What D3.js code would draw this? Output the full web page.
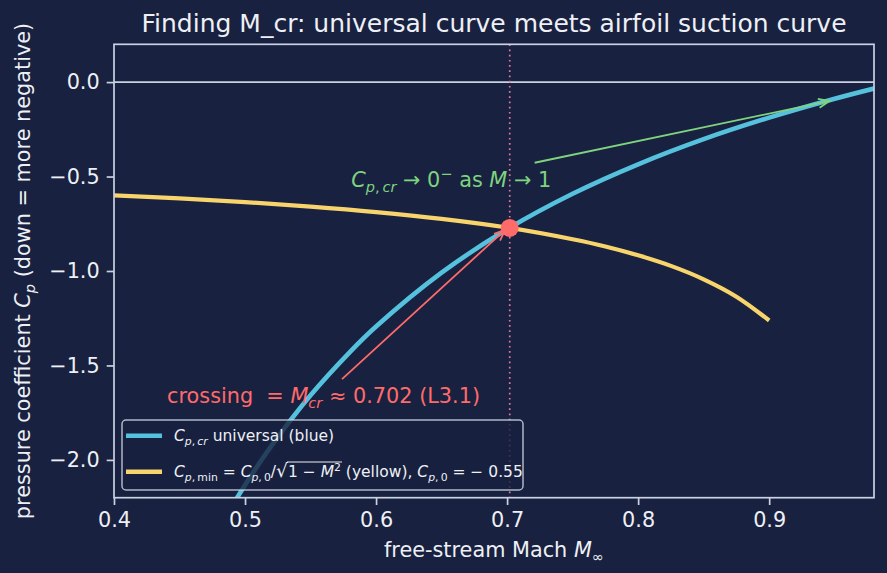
<!DOCTYPE html>
<html lang="en">
<head>
<meta charset="UTF-8">
<title>Finding M_cr</title>
<script src="https://cdn.jsdelivr.net/npm/d3@7/dist/d3.min.js"></script>
<style>
  html, body { margin:0; padding:0; background:#18213f; }
  svg { display:block; font-family:"DejaVu Sans", sans-serif; }
  text { white-space: pre; }
</style>
</head>
<body>
<svg width="887" height="573"></svg>
<script>
// universal critical pressure coefficient curve (blue)
var machCr = [0.48, 0.49, 0.50, 0.52, 0.55, 0.58, 0.60, 0.65, 0.70, 0.75, 0.80, 0.85, 0.90, 0.95, 0.98];
var cpCr   = [-2.365, -2.246, -2.133, -1.927, -1.658, -1.429, -1.294, -1.009, -0.779, -0.591, -0.435, -0.302, -0.188, -0.088, -0.034];

// airfoil suction peak, Prandtl-Glauert scaled (yellow)
var machMin = [0.40, 0.45, 0.50, 0.55, 0.60, 0.65, 0.70, 0.75, 0.775, 0.80, 0.825, 0.85, 0.875, 0.90];
var cpMin   = [-0.600, -0.616, -0.635, -0.659, -0.688, -0.724, -0.770, -0.832, -0.870, -0.917, -0.973, -1.044, -1.136, -1.262];

// crossing
var mCrit = 0.702, cpCrit = -0.772;

var xTicks = [0.4, 0.5, 0.6, 0.7, 0.8, 0.9];
var yTicks = [0.0, -0.5, -1.0, -1.5, -2.0];

var svg = d3.select("svg");
var plot = {left:114, right:874, top:44.3, bottom:497.7};
var fg = "#c9d2e2", txt = "#eef0f5";
var blue = "#56c1dd", yellow = "#f8d46c", red = "#ff6b6b", green = "#7fd37f", pink = "#de7b9c";

var x = d3.scaleLinear().domain([0.4, 0.98]).range([plot.left, plot.right]);
var y = d3.scaleLinear().domain([-2.2, 0.2]).range([plot.bottom, plot.top]);

svg.append("defs").append("clipPath").attr("id", "clip")
  .append("rect").attr("x", plot.left).attr("y", plot.top)
  .attr("width", plot.right - plot.left).attr("height", plot.bottom - plot.top);

// append tspans for simple math text; kinds: i italic, b subscript, p superscript, o overline, L large
function mathText(t, parts) {
  var fs = +t.attr("font-size"), shift = 0, n = 0, over = null;
  parts.forEach(function(p) {
    var s = p[0], k = p[1] || "";
    var target = k.indexOf("b") >= 0 ? 0.24*fs : (k.indexOf("p") >= 0 ? -0.38*fs : 0);
    var ts = t.append("tspan").text(s).attr("dy", target - shift);
    shift = target;
    if (target !== 0) ts.attr("font-size", 0.7*fs);
    if (k.indexOf("L") >= 0) ts.attr("font-size", 1.2*fs);
    if (k.indexOf("i") >= 0) ts.attr("font-style", "italic");
    if (k.indexOf("o") >= 0) {
      if (!over) over = {from:n};
      over.to = n + s.length - 1;
    }
    n += s.length;
  });
  if (over) {
    var node = t.node();
    var x0 = node.getStartPositionOfChar(over.from).x - 1;
    var x1 = node.getEndPositionOfChar(over.to).x + 1;
    var yb = +t.attr("y") - 0.98*fs;
    d3.select(node.parentNode).append("line")
      .attr("x1", x0).attr("x2", x1).attr("y1", yb).attr("y2", yb)
      .attr("stroke", t.attr("fill")).attr("stroke-width", 1.1);
  }
  return t;
}

// zero line and dotted M_cr marker
svg.append("line")
  .attr("x1", plot.left).attr("x2", plot.right)
  .attr("y1", y(0)).attr("y2", y(0))
  .attr("stroke", fg).attr("stroke-width", 1.7);

svg.append("line")
  .attr("x1", x(mCrit)).attr("x2", x(mCrit))
  .attr("y1", plot.top).attr("y2", plot.bottom)
  .attr("stroke", pink).attr("stroke-width", 1.7)
  .attr("stroke-dasharray", "1.7,3.5");

// curves
var line = d3.line()
  .x(function(d) { return x(d[0]); })
  .y(function(d) { return y(d[1]); })
  .curve(d3.curveCatmullRom.alpha(0.5));

var curves = svg.append("g").attr("clip-path", "url(#clip)");
curves.append("path")
  .datum(machCr.map(function(m, i) { return [m, cpCr[i]]; }))
  .attr("d", line).attr("fill", "none")
  .attr("stroke", blue).attr("stroke-width", 4.6);

curves.append("path")
  .datum(machMin.map(function(m, i) { return [m, cpMin[i]]; }))
  .attr("d", line).attr("fill", "none")
  .attr("stroke", yellow).attr("stroke-width", 4.2);

// arrows with open heads
function arrow(x1, y1, x2, y2, color) {
  var a = Math.atan2(y2 - y1, x2 - x1), L = 11, W = 4.5;
  var g = svg.append("g").attr("stroke", color).attr("stroke-width", 1.8).attr("fill", "none");
  g.append("line").attr("x1", x1).attr("y1", y1).attr("x2", x2).attr("y2", y2);
  var bx = x2 - L*Math.cos(a), by = y2 - L*Math.sin(a);
  g.append("path").attr("d",
    "M" + (bx + W*Math.sin(a)) + "," + (by - W*Math.cos(a)) +
    "L" + x2 + "," + y2 +
    "L" + (bx - W*Math.sin(a)) + "," + (by + W*Math.cos(a)));
}

arrow(x(0.574), y(-1.572), x(0.6985), y(-0.782), red);
arrow(x(0.721), y(-0.427), x(0.946), y(-0.10), green);

// crossing point
svg.append("circle")
  .attr("cx", x(mCrit)).attr("cy", y(cpCrit)).attr("r", 9)
  .attr("fill", red);

// annotations
mathText(svg.append("text").attr("x", x(0.581)).attr("y", y(-0.555))
  .attr("font-size", 20.8).attr("fill", green), [
  ["C","i"], ["p","ib"], [",\u2009","b"], ["cr","ib"], [" \u2192 0"], ["\u2212","p"], [" as "], ["M","i"], [" \u2192 1"]
]);

mathText(svg.append("text").attr("x", x(0.4405)).attr("y", y(-1.699))
  .attr("font-size", 20.8).attr("fill", red), [
  ["crossing  = "], ["M","i"], ["cr","ib"], [" \u2248 0.702 (L3.1)"]
]);

// frame
svg.append("rect")
  .attr("x", plot.left).attr("y", plot.top)
  .attr("width", plot.right - plot.left).attr("height", plot.bottom - plot.top)
  .attr("fill", "none").attr("stroke", fg).attr("stroke-width", 1.7);

// axes
var fmt = function(d) { return d3.format(".1f")(d).replace("-", "\u2212"); };
var xAxis = svg.append("g").attr("transform", "translate(0," + plot.bottom + ")")
  .call(d3.axisBottom(x).tickValues(xTicks).tickSize(7.3).tickPadding(7).tickFormat(fmt));
var yAxis = svg.append("g").attr("transform", "translate(" + plot.left + ",0)")
  .call(d3.axisLeft(y).tickValues(yTicks).tickSize(7.3).tickPadding(7).tickFormat(fmt));
[xAxis, yAxis].forEach(function(a) {
  a.select(".domain").remove();
  a.selectAll(".tick line").attr("stroke", fg).attr("stroke-width", 1.7);
  a.selectAll(".tick text").attr("fill", txt).attr("font-size", 20.8)
    .attr("font-family", "DejaVu Sans");
});

// axis labels and title
mathText(svg.append("text").attr("x", (plot.left + plot.right)/2).attr("y", 557)
  .attr("text-anchor", "middle").attr("font-size", 20.8).attr("fill", txt), [
  ["free-stream Mach "], ["M","i"], ["\u221e","b"]
]);

mathText(svg.append("text").attr("transform", "translate(30," + ((plot.top + plot.bottom)/2) + ") rotate(-90)")
  .attr("x", 0).attr("y", 0)
  .attr("text-anchor", "middle").attr("font-size", 20.8).attr("fill", txt), [
  ["pressure coefficient "], ["C","i"], ["p","ib"], [" (down = more negative)"]
]);

svg.append("text")
  .attr("x", (plot.left + plot.right)/2).attr("y", 32)
  .attr("text-anchor", "middle").attr("font-size", 25).attr("fill", txt)
  .text("Finding M_cr: universal curve meets airfoil suction curve");

// legend
var lg = svg.append("g");
lg.append("rect")
  .attr("x", 122).attr("y", 420).attr("width", 401).attr("height", 70).attr("rx", 4)
  .attr("fill", "#18213f").attr("fill-opacity", 0.8)
  .attr("stroke", fg).attr("stroke-opacity", 0.85).attr("stroke-width", 1.5);

var legendRows = [
  {color: blue, parts: [["C","i"], ["p","ib"], [",\u2009","b"], ["cr","ib"], [" universal (blue)"]]},
  {color: yellow, parts: [["C","i"], ["p","ib"], [",\u2009min","b"], [" = "], ["C","i"], ["p","ib"], [",\u20090","b"],
    ["/"], ["\u221a","L"], ["1 \u2212 ","o"], ["M","io"], ["2","po"], [" (yellow), "], ["C","i"], ["p","ib"], [",\u20090","b"], [" = \u2212 0.55"]]}
];
legendRows.forEach(function(r, i) {
  var cy = 435.7 + i*36;
  lg.append("line").attr("x1", 126).attr("x2", 162).attr("y1", cy).attr("y2", cy)
    .attr("stroke", r.color).attr("stroke-width", 4.4);
  mathText(lg.append("text").attr("x", 174).attr("y", cy + 5.5)
    .attr("font-size", 15.5).attr("fill", txt), r.parts);
});
</script>
</body>
</html>
